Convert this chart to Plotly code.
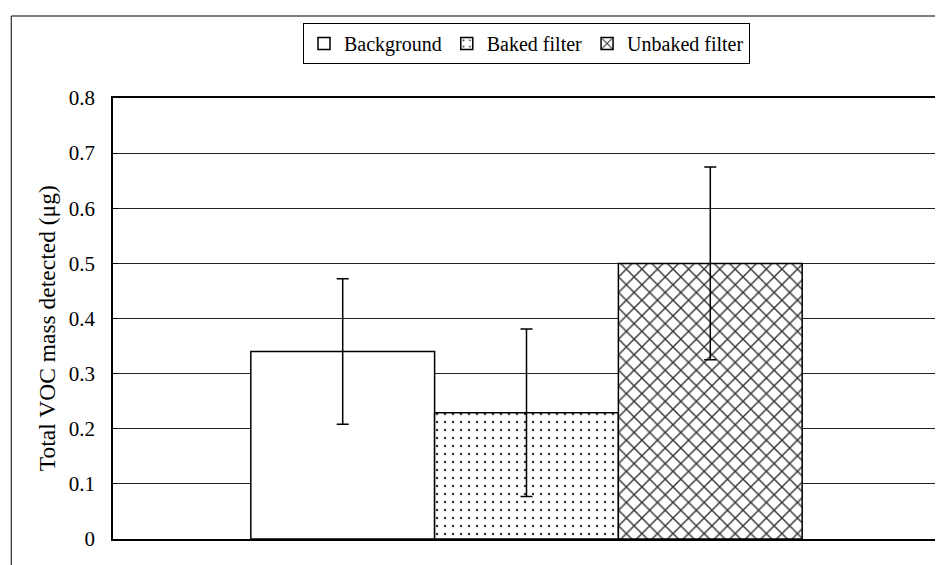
import plotly.graph_objects as go

# --- data ---
series_names = ["Background", "Baked filter", "Unbaked filter"]
mean_mass = [0.340, 0.229, 0.500]
err_mass = [0.132, 0.152, 0.175]
patterns = ["", ".", "x"]
y_ticks = [0, 0.1, 0.2, 0.3, 0.4, 0.5, 0.6, 0.7, 0.8]
y_title = "Total VOC mass detected (μg)"

FONT = "Liberation Serif, Times New Roman, serif"

# page body has an 8px margin, so the figure is sized to fill the rest of the window
W, H = 935, 557
L, T, R, B = 105, 90, 1, 26
PW, PH = W - L - R, H - T - B

def px(x):  # page x -> paper x
    return (x - 8 - L) / PW

def py(y):  # page y -> paper y
    return (H - B - (y - 8)) / PH

fig = go.Figure()
for name, m, e, p in zip(series_names, mean_mass, err_mass, patterns):
    pattern = dict(shape=p, fgcolor="#333333", bgcolor="white")
    if p == ".":
        pattern.update(size=8, solidity=0.07, fgcolor="#333333", fgopacity=1)
    elif p == "x":
        pattern.update(size=11, solidity=0.24, fgcolor="#333333", fgopacity=1)
    fig.add_trace(go.Bar(
        x=[""], y=[m], name=name,
        marker=dict(color="white", line=dict(color="black", width=1.5), pattern=pattern),
        error_y=dict(type="data", array=[e], visible=True, color="black", thickness=1.5, width=6),
    ))

fig.update_layout(
    width=W, height=H,
    margin=dict(l=L, r=R, t=T, b=B),
    paper_bgcolor="white", plot_bgcolor="white",
    barmode="group", bargap=0.3333, bargroupgap=0,
    font=dict(family=FONT, size=21, color="black"),
    legend=dict(
        orientation="h", x=0.5, xanchor="center", y=py(23), yanchor="top",
        bordercolor="black", borderwidth=1, font=dict(size=20),
        itemwidth=30, tracegroupgap=0,
    ),
    showlegend=True,
)
fig.update_xaxes(showticklabels=False, showgrid=False, showline=True, linecolor="black",
                 linewidth=1.5, mirror=True, ticks="")
fig.update_yaxes(
    range=[0, 0.8], tickvals=y_ticks, ticktext=[f"{v:g}" for v in y_ticks],
    showgrid=True, gridcolor="#222222", gridwidth=1,
    showline=True, linecolor="black", linewidth=1.5, mirror=True,
    ticks="inside", ticklen=5, tickcolor="black", ticklabelstandoff=12,
    zeroline=False,
)

fig.add_annotation(text=y_title, textangle=-90, showarrow=False,
                   xref="paper", yref="paper", x=px(47), y=py(328),
                   xanchor="center", yanchor="middle", font=dict(size=23.5))

# outer chart-area border (cropped at right and bottom in the reference)
fig.add_shape(type="rect", xref="paper", yref="paper",
              x0=px(11), x1=1.05, y0=-0.2, y1=py(16),
              line=dict(color="black", width=1), layer="below")

fig.write_html("out.html")
